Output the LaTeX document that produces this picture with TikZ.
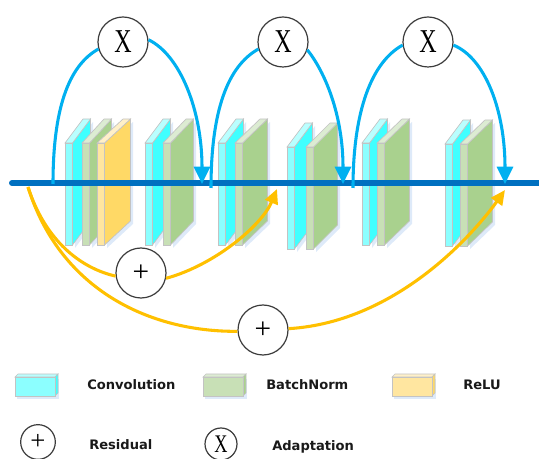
\documentclass[tikz,border=0pt]{standalone}
\usepackage{fontspec}
\setmainfont{Liberation Serif}
\newfontfamily\legfont{DejaVu Sans}
\usetikzlibrary{arrows.meta}
\definecolor{mainblue}{RGB}{0,112,192}
\definecolor{arcblue}{RGB}{0,176,240}
\definecolor{resyellow}{RGB}{255,192,0}
\definecolor{cyfront}{RGB}{140,255,255}
\definecolor{cyside}{RGB}{64,255,255}
\definecolor{cytop}{RGB}{185,255,255}
\definecolor{gnfront}{RGB}{200,224,182}
\definecolor{gnside}{RGB}{169,209,142}
\definecolor{gntop}{RGB}{220,236,210}
\definecolor{ylfront}{RGB}{255,230,160}
\definecolor{ylside}{RGB}{255,217,102}
\definecolor{yltop}{RGB}{255,240,200}
\definecolor{edgegray}{RGB}{195,195,195}
\definecolor{circgray}{RGB}{60,60,60}
\definecolor{shadowblue}{RGB}{200,220,245}
\definecolor{txtdark}{RGB}{25,25,25}
\newcommand{\drawslab}[6]{%
  \fill[shadowblue,opacity=0.6] (#1+10,#2+3) -- ++(#6,-24) -- ++(0,102) -- (#1+10,#2+105) -- cycle;
  \filldraw[slabedge,fill=#4] (#1+7.5,#2) -- ++(#6,-24) -- ++(0,102) -- (#1+7.5,#2+102) -- cycle;
  \filldraw[slabedge,fill=#5] (#1,#2) -- ++(#6,-24) -- ++(7.5,0) -- (#1+7.5,#2) -- cycle;
  \filldraw[slabedge,fill=#3] (#1,#2) rectangle ++(7.5,102);
}
\newcommand{\drawlegbox}[5]{%
  \fill[shadowblue,opacity=0.6] (#1+2,#2+2) rectangle ++(42,20);
  \filldraw[slabedge,fill=#5] (#1,#2) -- ++(3,-3) -- ++(40,0) -- (#1+40,#2) -- cycle;
  \filldraw[slabedge,fill=#4] (#1+40,#2) -- ++(3,-3) -- ++(0,19) -- (#1+40,#2+19) -- cycle;
  \filldraw[slabedge,fill=#3] (#1,#2) rectangle ++(40,19);
}
\tikzset{
  slabedge/.style={draw=edgegray,line width=0.5pt},
  mainline/.style={draw=mainblue,line width=4.5pt},
  bluearc/.style={draw=arcblue,line width=2.3pt},
  yarc/.style={draw=resyellow,line width=2.3pt},
  bluetip/.style={-{Triangle[length=13pt,width=12pt]}},
  ytip/.style={-{Triangle[length=11pt,width=10pt]}},
  opnode/.style={circle,draw=circgray,line width=0.9pt,fill=white,minimum size=37.5pt,inner sep=0pt},
  smallop/.style={circle,draw=circgray,line width=0.9pt,fill=white,minimum size=25pt,inner sep=0pt},
  legtext/.style={anchor=west,inner sep=0pt,text=txtdark,font=\legfont\bfseries\fontsize{9.8}{11}\selectfont}
}
\begin{document}
\begin{tikzpicture}[x=0.75pt,y=-0.75pt]
\useasboundingbox (0,0) rectangle (539,459);
% slabs
\drawslab{65}{143}{cyfront}{cyside}{cytop}{18}
\drawslab{82}{143}{gnfront}{gnside}{gntop}{22}
\drawslab{97}{143}{ylfront}{ylside}{yltop}{26}
\drawslab{145}{143}{cyfront}{cyside}{cytop}{18}
\drawslab{163}{143}{gnfront}{gnside}{gntop}{23}
\drawslab{218}{143}{cyfront}{cyside}{cytop}{18}
\drawslab{235}{143}{gnfront}{gnside}{gntop}{25}
\drawslab{287}{147}{cyfront}{cyside}{cytop}{18}
\drawslab{306}{147}{gnfront}{gnside}{gntop}{24}
\drawslab{362}{143}{cyfront}{cyside}{cytop}{18}
\drawslab{377}{143}{gnfront}{gnside}{gntop}{25}
\drawslab{445}{144}{cyfront}{cyside}{cytop}{18}
\drawslab{460}{144}{gnfront}{gnside}{gntop}{25}
% main line
\coordinate (ls) at (12,183);
\coordinate (le) at (545,183);
\draw[mainline,line cap=round] (ls) -- (le);
% coordinates on the line
\coordinate (b1s) at (53,184);
\coordinate (b1e) at (202,184);
\coordinate (b2s) at (211,188);
\coordinate (b2e) at (343,184);
\coordinate (b3s) at (353,188);
\coordinate (b3e) at (505,184);
\coordinate (ys) at (28,187);
\coordinate (y1e) at (277,189);
\coordinate (y2e) at (505,190);
% adaptation nodes
\node[opnode] (x1) at (123,42) {\scalebox{0.72}[1]{\fontsize{25}{25}\selectfont X}};
\node[opnode] (x2) at (283,42) {\scalebox{0.72}[1]{\fontsize{25}{25}\selectfont X}};
\node[opnode] (x3) at (428,42) {\scalebox{0.72}[1]{\fontsize{25}{25}\selectfont X}};
% residual nodes
\node[opnode] (p1) at (141,273) {\fontsize{22}{22}\selectfont +};
\node[opnode] (p2) at (263,330) {\fontsize{22}{22}\selectfont +};
% blue arcs
\draw[bluearc] (b1s) .. controls (53,110) and (68,66) .. (x1.196);
\draw[bluearc,bluetip] (x1.5) .. controls (180,55) and (202,110) .. (b1e);
\draw[bluearc] (b2s) .. controls (211,110) and (228,66) .. (x2.196);
\draw[bluearc,bluetip] (x2.-18) .. controls (325,72) and (343,115) .. (b2e);
\draw[bluearc] (b3s) .. controls (353,110) and (372,62) .. (x3.187);
\draw[bluearc,bluetip] (x3.-7) .. controls (485,58) and (505,110) .. (b3e);
% yellow arcs
\draw[yarc] (ys) .. controls (45,240) and (80,268) .. (p1.187);
\draw[yarc,ytip] (p1.-12) .. controls (215,265) and (262,225) .. (y1e);
\draw[yarc] (ys) .. controls (60,290) and (150,332) .. (p2.183);
\draw[yarc,ytip] (p2.3) .. controls (400,322) and (478,228) .. (y2e);
% legend
\drawlegbox{15}{377}{cyfront}{cyside}{cytop}
\drawlegbox{203}{377}{gnfront}{gnside}{gntop}
\drawlegbox{392}{377}{ylfront}{ylside}{yltop}
\node[legtext] (lconv) at (87,385) {Convolution};
\node[legtext] (lbn) at (266,385) {BatchNorm};
\node[legtext] (lrelu) at (463,385) {ReLU};
\node[smallop,minimum size=26pt] (lp) at (38,442) {\fontsize{20}{20}\selectfont +};
\node[legtext] (lres) at (89,445) {Residual};
\node[smallop,minimum size=24pt] (lx) at (221,444) {\scalebox{0.72}[1]{\fontsize{19}{19}\selectfont X}};
\node[legtext] (ladapt) at (272,447) {Adaptation};
\end{tikzpicture}
\end{document}
